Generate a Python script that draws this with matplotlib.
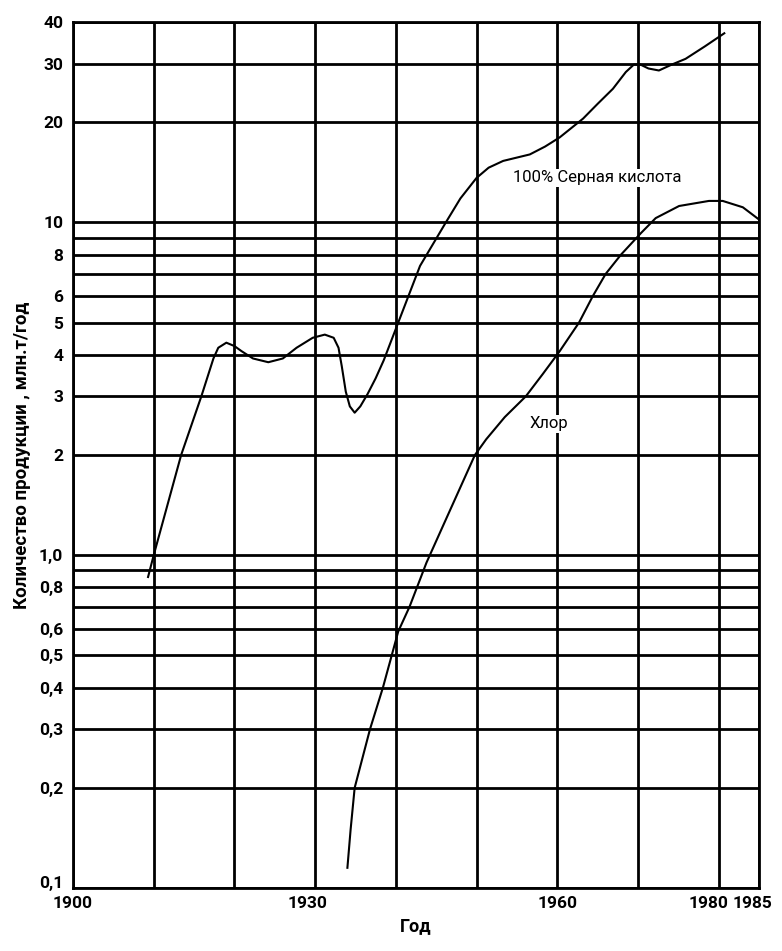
import matplotlib
matplotlib.use("Agg")
import matplotlib.pyplot as plt
import matplotlib.transforms as mtransforms
from matplotlib.ticker import FixedLocator, NullLocator

plt.rcParams['font.family'] = ['Roboto', 'DejaVu Sans']

acid_years = [1909.3, 1910.0, 1913.4, 1915.9, 1917.4, 1918.0, 1919.0, 1920.0, 1920.9,
              1922.3, 1924.2, 1926.0, 1927.7, 1929.7, 1931.2, 1932.3, 1932.9, 1933.3,
              1933.8, 1934.3, 1934.9, 1935.6, 1936.5, 1937.5, 1938.5, 1940.3, 1943.0,
              1946.2, 1948.0, 1950.0, 1951.5, 1953.3, 1956.6, 1958.5, 1960.3, 1963.2,
              1965.0, 1966.9, 1968.5, 1969.5, 1970.3, 1971.3, 1972.6, 1974.2, 1975.9,
              1978.3, 1980.7]
acid_values = [0.86, 1.0, 2.0, 3.0, 3.9, 4.2, 4.35, 4.25, 4.1,
               3.9, 3.8, 3.9, 4.2, 4.5, 4.6, 4.5, 4.2, 3.7,
               3.1, 2.8, 2.68, 2.8, 3.05, 3.4, 3.85, 5.0, 7.4,
               10.0, 11.8, 13.6, 14.6, 15.3, 16.0, 16.9, 18.0, 20.5,
               22.7, 25.2, 28.3, 29.8, 29.8, 29.0, 28.6, 29.8, 31.0,
               33.8, 37.0]

chlor_years = [1934.0, 1934.4, 1934.9, 1936.8, 1938.4, 1940.3, 1941.7, 1943.8, 1946.2,
               1949.8, 1951.2, 1953.5, 1956.1, 1958.2, 1960.3, 1962.7, 1964.4, 1966.0,
               1967.9, 1970.4, 1972.2, 1975.1, 1978.8, 1980.5, 1983.0, 1985.0]
chlor_values = [0.115, 0.15, 0.2, 0.3, 0.4, 0.59, 0.7, 0.95, 1.28,
                2.0, 2.23, 2.6, 3.0, 3.5, 4.1, 5.0, 6.0, 7.0,
                8.0, 9.3, 10.3, 11.2, 11.6, 11.6, 11.1, 10.2]

x_grid = [1900, 1910, 1920, 1930, 1940, 1950, 1960, 1970, 1980, 1985]
x_ticks = [1900, 1930, 1960, 1980, 1985]
x_ticklabels = ['1900', '1930', '1960', '1980', '1985']
y_grid = [0.1, 0.2, 0.3, 0.4, 0.5, 0.6, 0.7, 0.8, 0.9, 1.0,
          2, 3, 4, 5, 6, 7, 8, 9, 10, 20, 30, 40]
y_ticks = [0.1, 0.2, 0.3, 0.4, 0.5, 0.6, 0.8, 1.0, 2, 3, 4, 5, 6, 8, 10, 20, 30, 40]
y_ticklabels = ['0,1', '0,2', '0,3', '0,4', '0,5', '0,6', '0,8', '1,0',
                '2', '3', '4', '5', '6', '8', '10', '20', '30', '40']

acid_label = '100% Серная кислота'
chlor_label = 'Хлор'
x_label = 'Год'
y_label = 'Количество продукции , млн.т/год'

fig = plt.figure(figsize=(7.82, 9.51), dpi=100)
ax = fig.add_axes([73/782, 63/951, (759-73)/782, (888-22)/951])
ax.set_yscale('log')
ax.set_xlim(1900, 1985)
ax.set_ylim(0.1, 40)

for xv in x_grid:
    ax.axvline(xv, color='black', lw=2.0, zorder=1)
for yv in y_grid:
    ax.axhline(yv, color='black', lw=2.0, zorder=1)

ax.plot(acid_years, acid_values, color='black', lw=1.5, zorder=3, solid_joinstyle='round')
ax.plot(chlor_years, chlor_values, color='black', lw=1.5, zorder=3, solid_joinstyle='round')

ax.text(1965.0, 13.6, acid_label, ha='center', va='center', fontsize=12,
        bbox=dict(facecolor='white', edgecolor='none', pad=1), zorder=4)
ax.text(1959.0, 2.48, chlor_label, ha='center', va='center', fontsize=12,
        bbox=dict(facecolor='white', edgecolor='none', pad=1), zorder=4)

for s in ax.spines.values():
    s.set_linewidth(2.0)

ax.xaxis.set_major_locator(FixedLocator(x_ticks))
ax.set_xticklabels(x_ticklabels)
ax.xaxis.set_minor_locator(NullLocator())
ax.yaxis.set_major_locator(FixedLocator(y_ticks))
ax.set_yticklabels(y_ticklabels)
ax.yaxis.set_minor_locator(NullLocator())
ax.tick_params(axis='x', length=0, labelsize=12.5, pad=6)
ax.tick_params(axis='y', length=0, labelsize=12.5, pad=7)
for lbl in ax.get_xticklabels() + ax.get_yticklabels():
    lbl.set_fontweight('bold')

# small shifts as in the original drawing
x_shift = {'1930': -8, '1980': -10, '1985': -7, '1900': 0, '1960': 0}
for lbl in ax.get_xticklabels():
    dx = x_shift.get(lbl.get_text(), 0)
    lbl.set_transform(lbl.get_transform() +
                      mtransforms.ScaledTranslation(dx/100, 0, fig.dpi_scale_trans))
for lbl in ax.get_yticklabels():
    if lbl.get_text() == '0,1':
        lbl.set_transform(lbl.get_transform() +
                          mtransforms.ScaledTranslation(0, 6/100, fig.dpi_scale_trans))

ax.set_xlabel(x_label, fontsize=13, fontweight='bold', labelpad=4)
ax.set_ylabel(y_label, fontsize=13.5, fontweight='bold', labelpad=6)

fig.savefig('out.png', dpi=100)
